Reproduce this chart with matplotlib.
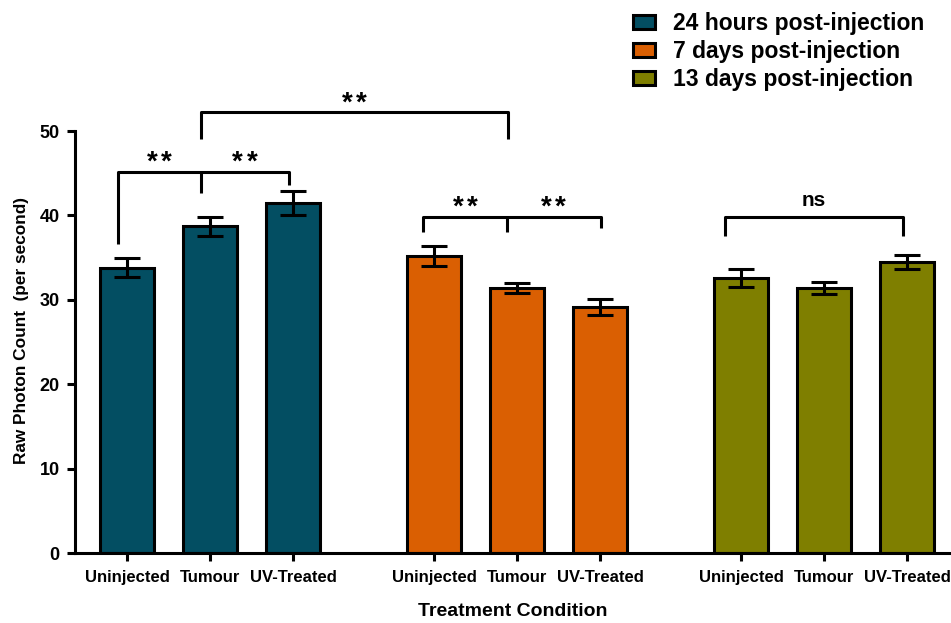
import numpy as np
import matplotlib
matplotlib.use('Agg')
import matplotlib.pyplot as plt
from matplotlib.patches import Patch
from matplotlib.transforms import offset_copy

plt.rcParams['font.family'] = ['Liberation Sans', 'DejaVu Sans']

conditions = ["Uninjected", "Tumour", "UV-Treated"]
groups = ["24 hours post-injection", "7 days post-injection", "13 days post-injection"]
colors = ["#034e62", "#da5f02", "#7f7f00"]

means = [
    [33.8, 38.7, 41.5],
    [35.2, 31.4, 29.1],
    [32.55, 31.4, 34.45],
]
errors = [
    [1.1, 1.1, 1.4],
    [1.2, 0.55, 0.95],
    [1.05, 0.75, 0.85],
]

fig = plt.figure(figsize=(9.51, 6.23), dpi=100)
ax = fig.add_axes([75 / 951, 1 - 553 / 623, 1 - 75 / 951, (553 - 131) / 623])

group_gap = 3.7
positions = []
for g in range(len(groups)):
    xs = g * group_gap + np.arange(len(conditions))
    positions.append(xs)
    ax.bar(xs, means[g], width=0.66, color=colors[g], edgecolor='black',
           linewidth=2.2, zorder=2)
    ax.errorbar(xs, means[g], yerr=errors[g], fmt='none', ecolor='black',
                elinewidth=2.2, capsize=9.5, capthick=2.2, zorder=3)

ax.set_xlim(-0.627, 9.93)
ax.set_ylim(0, 50)
ax.set_yticks([0, 10, 20, 30, 40, 50])
ax.set_yticklabels(['0', '10', '20', '30', '40', '50'], fontsize=13, fontweight='bold')

all_x = np.concatenate(positions)
ax.set_xticks(all_x)
ax.set_xticklabels(conditions * 3, fontsize=12, fontweight='bold')
ax.tick_params(axis='both', width=2.2, length=6, color='black')
ax.tick_params(axis='x', pad=6)
ax.tick_params(axis='y', pad=5)

for s in ['top', 'right']:
    ax.spines[s].set_visible(False)
for s in ['left', 'bottom']:
    ax.spines[s].set_linewidth(2.2)

ax.set_ylabel("Raw Photon Count  (per second)", fontsize=12.4, fontweight='bold')
ax.yaxis.set_label_coords(-0.052, 0.528)
ax.set_xlabel("Treatment Condition", fontsize=14, fontweight='bold', labelpad=13)


def bracket(x0, x1, y, y0, y1, mid=None, ymid=None):
    kw = dict(color='black', lw=2.2, clip_on=False, solid_capstyle='butt', zorder=4)
    ax.plot([x0, x0, x1, x1], [y0, y, y, y1], **kw)
    if mid is not None:
        ax.plot([mid, mid], [y, ymid], **kw)


def stars(x, y):
    # two asterisks with a small gap; the glyph sits high, so lower the baseline
    for dx in (-7.2, 7.2):
        tr = offset_copy(ax.transData, fig=fig, x=dx, y=0, units='dots')
        ax.text(x, y - 1.5, "*", transform=tr, ha='center', va='baseline',
                fontsize=20, fontweight='bold', clip_on=False)


# 24 hours
p = positions[0]
bracket(p[0] - 0.11, p[2] - 0.05, 45.1, 36.6, 43.6, mid=p[1] - 0.11, ymid=42.7)
stars((p[0] + p[1]) / 2 - 0.11, 46.9)
stars((p[1] + p[2]) / 2 - 0.08, 46.9)

# top bracket
bracket(p[1] - 0.11, positions[1][1] - 0.11, 52.2, 49.0, 49.0)
stars((p[1] + positions[1][1]) / 2 - 0.11, 53.9)

# 7 days
p = positions[1]
bracket(p[0] - 0.13, p[2] + 0.01, 39.8, 38.0, 38.5, mid=p[1] - 0.12, ymid=38.0)
stars((p[0] + p[1]) / 2 - 0.12, 41.6)
stars((p[1] + p[2]) / 2 - 0.06, 41.6)

# 13 days
p = positions[2]
bracket(p[0] - 0.19, p[2] - 0.05, 39.8, 37.6, 37.6)
ax.text((p[0] + p[2]) / 2 - 0.12, 41.8, "ns", ha='center', va='center',
        fontsize=15, fontweight='bold', clip_on=False)

handles = [Patch(facecolor=c, edgecolor='black', linewidth=2.2) for c in colors]
fig.legend(handles, groups, loc='upper left', bbox_to_anchor=(633 / 951, 1 - 12 / 623),
           frameon=False, prop={'weight': 'bold', 'size': 16.5},
           handlelength=0.95, handleheight=0.62, handletextpad=0.8, labelspacing=0.22,
           borderaxespad=0, borderpad=0)

plt.savefig("out.png", dpi=100)
